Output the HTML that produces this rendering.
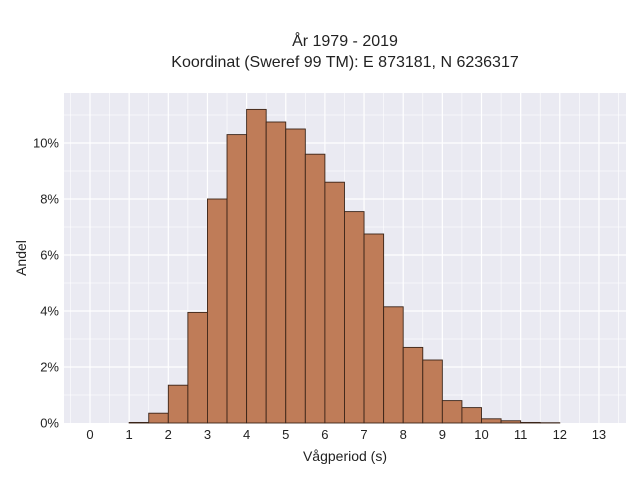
<!DOCTYPE html>
<html><head><meta charset="utf-8"><style>
body{margin:0;background:#fff;font-family:"Liberation Sans",sans-serif}
</style></head><body>
<svg id="c" width="640" height="480" xmlns="http://www.w3.org/2000/svg">
<text x="345" y="46" text-anchor="middle" font-size="16" fill="#222">År 1979 - 2019</text>
<text x="345" y="67" text-anchor="middle" font-size="16" fill="#222">Koordinat (Sweref 99 TM): E 873181, N 6236317</text>
<rect x="64" y="93" width="562" height="330" fill="#eaeaf2"/>
<g id="grid"></g><g id="bars"></g><g id="xt"></g><g id="yt"></g>
<text x="345" y="461" text-anchor="middle" font-size="14" fill="#222">Vågperiod (s)</text>
<text x="26" y="258" text-anchor="middle" font-size="14" fill="#222" transform="rotate(-90 26 258)">Andel</text>
</svg>
<script>
const binStarts=[1,1.5,2,2.5,3,3.5,4,4.5,5,5.5,6,6.5,7,7.5,8,8.5,9,9.5,10,10.5,11,11.5];
const shares=[0.02,0.35,1.35,3.95,8.0,10.3,11.2,10.75,10.5,9.6,8.6,7.55,6.75,4.15,2.7,2.25,0.8,0.55,0.15,0.08,0.02,0.01];
const xTicks=[0,1,2,3,4,5,6,7,8,9,10,11,12,13];
const yTicks=[0,2,4,6,8,10];
const binW=0.5;
const X=v=>90+v*39.15, Y=v=>423-v*28;
const ns="http://www.w3.org/2000/svg";
function mk(t,a,p){const e=document.createElementNS(ns,t);for(const k in a)e.setAttribute(k,a[k]);p.appendChild(e);return e;}
const g=document.getElementById('grid');
for(let v=-0.5;v<=13.5;v+=0.5){const l=mk('line',{x1:X(v),x2:X(v),y1:93,y2:423,stroke:'#fff','stroke-width':Number.isInteger(v)?1.2:0.6},g);

}
for(let v=1;v<=11;v++){const l=mk('line',{x1:64,x2:626,y1:Y(v),y2:Y(v),stroke:'#fff','stroke-width':v%2?0.6:1.2},g);

}
const b=document.getElementById('bars');
binStarts.forEach((s,i)=>{const r=mk('rect',{x:X(s),y:Y(shares[i]),width:X(s+binW)-X(s),height:Y(0)-Y(shares[i]),fill:'#bf7c58',stroke:'#3a2418','stroke-width':0.9},b);

});
const xt=document.getElementById('xt');
xTicks.forEach(v=>{const t=mk('text',{x:X(v),y:439,'text-anchor':'middle','font-size':13,fill:'#222'},xt);t.textContent=v;

});
const yt=document.getElementById('yt');
yTicks.forEach(v=>{const t=mk('text',{x:59,y:Y(v)+4.5,'text-anchor':'end','font-size':13,fill:'#222'},yt);t.textContent=v+'%';

});
</script>
</body></html>
